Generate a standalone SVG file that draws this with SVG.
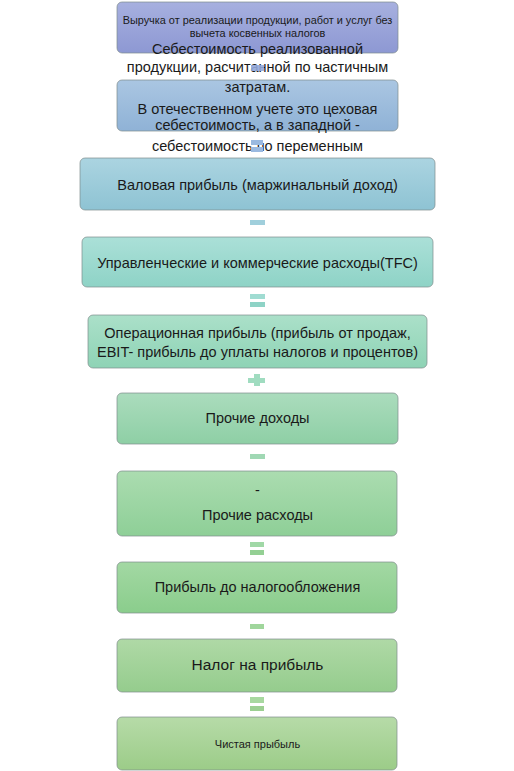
<svg xmlns="http://www.w3.org/2000/svg" width="514" height="771" viewBox="0 0 514 771">
<defs>
<linearGradient id="g1" x1="0" y1="0" x2="0" y2="1"><stop offset="0" stop-color="#a7b0df"/><stop offset="1" stop-color="#8d98d3"/></linearGradient>
<linearGradient id="g2" x1="0" y1="0" x2="0" y2="1"><stop offset="0" stop-color="#aac6e2"/><stop offset="1" stop-color="#8fb2d6"/></linearGradient>
<linearGradient id="g3" x1="0" y1="0" x2="0" y2="1"><stop offset="0" stop-color="#abd4e1"/><stop offset="1" stop-color="#8ec3d3"/></linearGradient>
<linearGradient id="g4" x1="0" y1="0" x2="0" y2="1"><stop offset="0" stop-color="#abe0d8"/><stop offset="1" stop-color="#8ed3c6"/></linearGradient>
<linearGradient id="g5" x1="0" y1="0" x2="0" y2="1"><stop offset="0" stop-color="#abe0c9"/><stop offset="1" stop-color="#8ed3b5"/></linearGradient>
<linearGradient id="g6" x1="0" y1="0" x2="0" y2="1"><stop offset="0" stop-color="#abdcbd"/><stop offset="1" stop-color="#8ecfa5"/></linearGradient>
<linearGradient id="g7" x1="0" y1="0" x2="0" y2="1"><stop offset="0" stop-color="#abdcb0"/><stop offset="1" stop-color="#8ecf97"/></linearGradient>
<linearGradient id="g8" x1="0" y1="0" x2="0" y2="1"><stop offset="0" stop-color="#a3d8a3"/><stop offset="1" stop-color="#8acd8c"/></linearGradient>
<linearGradient id="g9" x1="0" y1="0" x2="0" y2="1"><stop offset="0" stop-color="#afd9a6"/><stop offset="1" stop-color="#95cc8d"/></linearGradient>
<linearGradient id="g10" x1="0" y1="0" x2="0" y2="1"><stop offset="0" stop-color="#b6dba8"/><stop offset="1" stop-color="#9ccc88"/></linearGradient>
</defs>
<style>
.box{stroke:#7f8c8c;stroke-width:1;stroke-opacity:0.7}
.t{font-family:"Liberation Sans",Arial,sans-serif;font-size:14.5px;fill:#1a1a1a;text-anchor:middle}
.s{font-size:10.9px}
.xs{font-size:11px}
.l{font-size:15.5px}
</style>
<g id="n1"><rect class="box" x="117" y="2" width="281" height="51" rx="5" fill="url(#g1)"/>
<text class="t s" x="257.5" y="24">Выручка от реализации продукции, работ и услуг без</text>
<text class="t s" x="257.5" y="37">вычета косвенных налогов</text></g>
<g id="n2"><rect class="box" x="117" y="80" width="281" height="51" rx="5" fill="url(#g2)"/>
<text class="t" x="257.5" y="54">Себестоимость реализованной</text>
<text class="t" x="257.5" y="72">продукции, расчитанной по частичным</text>
<text class="t" x="257.5" y="92">затратам.</text>
<text class="t" x="257.5" y="114">В отечественном учете это цеховая</text>
<text class="t" x="257.5" y="130">себестоимость, а в западной -</text>
<text class="t" x="257.5" y="151">себестоимость по переменным</text></g>
<g id="n3"><rect class="box" x="80" y="158" width="355" height="52" rx="5" fill="url(#g3)"/>
<text class="t" x="257.5" y="190">Валовая прибыль (маржинальный доход)</text></g>
<g id="n4"><rect class="box" x="82" y="237" width="351" height="50" rx="5" fill="url(#g4)"/>
<text class="t" x="257.5" y="268">Управленческие и коммерческие расходы(TFC)</text></g>
<g id="n5"><rect class="box" x="88" y="315" width="339" height="53" rx="5" fill="url(#g5)"/>
<text class="t" x="257.5" y="338">Операционная прибыль (прибыль от продаж,</text>
<text class="t" x="257.5" y="357">EBIT- прибыль до уплаты налогов и процентов)</text></g>
<g id="n6"><rect class="box" x="117" y="393" width="281" height="51" rx="5" fill="url(#g6)"/>
<text class="t" x="257.5" y="423">Прочие доходы</text></g>
<g id="n7"><rect class="box" x="117" y="471" width="280" height="65" rx="5" fill="url(#g7)"/>
<text class="t" x="257.5" y="495">-</text>
<text class="t" x="257.5" y="520">Прочие расходы</text></g>
<g id="n8"><rect class="box" x="117" y="562" width="280" height="51" rx="5" fill="url(#g8)"/>
<text class="t" x="257.5" y="592">Прибыль до налогообложения</text></g>
<g id="n9"><rect class="box" x="117" y="639" width="280" height="53" rx="5" fill="url(#g9)"/>
<text class="t l" x="257.5" y="670">Налог на прибыль</text></g>
<g id="n10"><rect class="box" x="117" y="717" width="280" height="53" rx="5" fill="url(#g10)"/>
<text class="t xs" x="257.5" y="748">Чистая прыбыль</text></g>
<g id="connectors">
<rect x="251" y="65" width="13" height="6" fill="#93a9da" opacity="0.9"/>
<rect x="251" y="140" width="12" height="5" fill="#9ab9e0"/>
<rect x="251" y="147" width="12" height="5" fill="#9ab9e0"/>
<rect x="250" y="220" width="15" height="5" fill="#a0cfdc"/>
<rect x="250" y="294" width="15" height="5" fill="#a0dcd2"/>
<rect x="250" y="302" width="15" height="5" fill="#8ed3c6"/>
<rect x="248" y="378" width="17" height="5" fill="#a0dcc0"/>
<rect x="254" y="374" width="6" height="12" fill="#a0dcc0"/>
<rect x="250" y="454" width="15" height="5" fill="#a0d8b4"/>
<rect x="250" y="542" width="14" height="5" fill="#a0d8a6"/>
<rect x="250" y="550" width="14" height="5" fill="#94d094"/>
<rect x="250" y="624" width="14" height="5" fill="#a0d69c"/>
<rect x="250" y="697" width="14" height="6" fill="#a8d8a0"/>
<rect x="250" y="706" width="14" height="5" fill="#9ccf92"/>
</g>
</svg>
